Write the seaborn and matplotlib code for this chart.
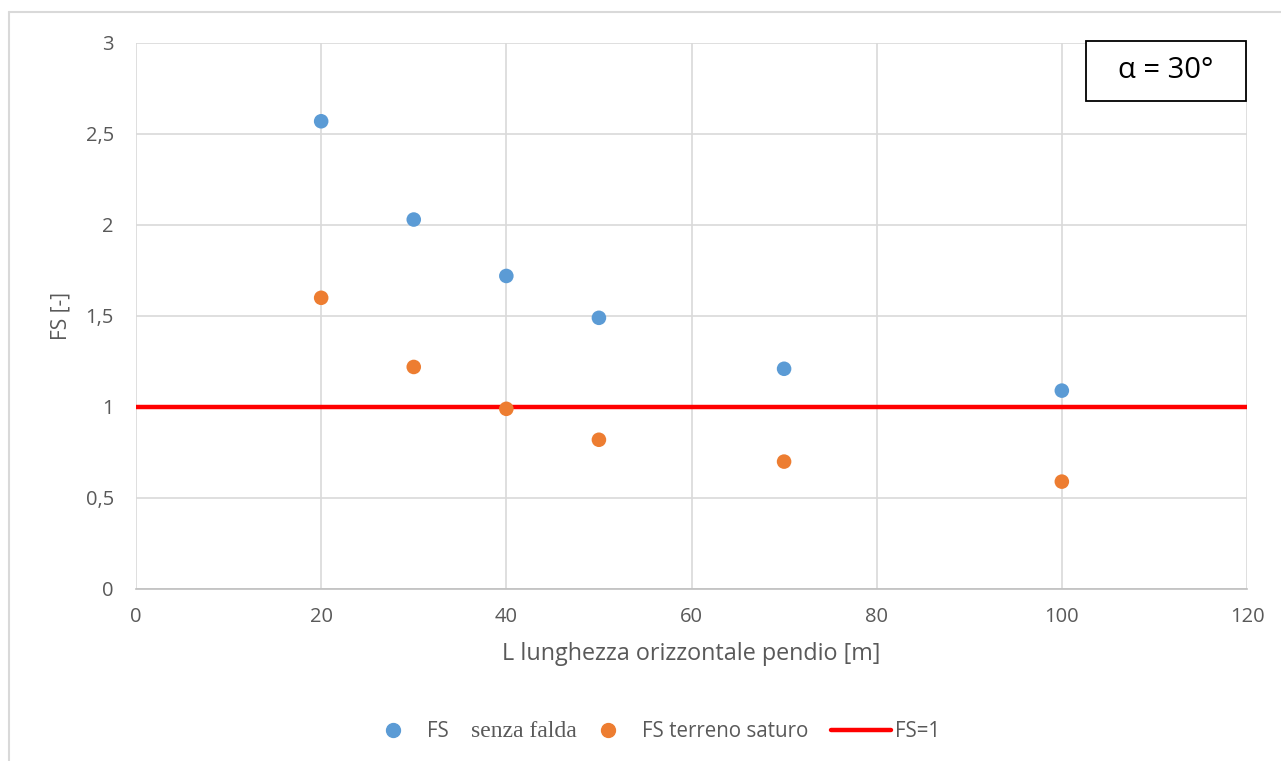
import pandas as pd
import matplotlib
matplotlib.use("Agg")
import matplotlib.pyplot as plt
from matplotlib.lines import Line2D
from matplotlib.patches import Rectangle
from matplotlib.offsetbox import TextArea, DrawingArea
from matplotlib.ticker import FuncFormatter, MultipleLocator
import seaborn as sns

# values
lunghezza = [20, 30, 40, 50, 70, 100]
fs_senza_falda = [2.57, 2.03, 1.72, 1.49, 1.21, 1.09]
fs_terreno_saturo = [1.60, 1.22, 0.99, 0.82, 0.70, 0.59]
fs_limite = 1.0

df = pd.DataFrame({
    "L": lunghezza * 2,
    "FS": fs_senza_falda + fs_terreno_saturo,
    "serie": ["senza falda"] * len(lunghezza) + ["terreno saturo"] * len(lunghezza),
})

sns.set_style("white")
plt.rcParams["font.family"] = ["Open Sans", "DejaVu Sans"]
grey = "#595959"
W, H = 1281, 761

fig = plt.figure(figsize=(W / 100, H / 100), dpi=100)
ax = fig.add_axes([136 / W, 1 - 589 / H, 1111 / W, 546 / H])

palette = {"senza falda": "#5b9bd5", "terreno saturo": "#ed7d31"}
sns.scatterplot(data=df, x="L", y="FS", hue="serie", palette=palette,
                s=110, edgecolor="none", legend=False, ax=ax, zorder=3)
ax.axhline(fs_limite, color="#ff0000", lw=3.2, zorder=2)

ax.set_xlim(0, 120)
ax.set_ylim(0, 3)
ax.xaxis.set_major_locator(MultipleLocator(20))
ax.yaxis.set_major_locator(MultipleLocator(0.5))
ax.yaxis.set_major_formatter(FuncFormatter(lambda v, p: f"{v:g}".replace(".", ",")))
ax.grid(True, color="#d9d9d9", lw=1.2)
ax.set_axisbelow(True)
for side in ["top", "right", "left"]:
    ax.spines[side].set_visible(False)
ax.spines["bottom"].set_color("#bfbfbf")
ax.spines["bottom"].set_linewidth(1.2)
ax.tick_params(axis="both", length=0, labelsize=14.5, colors=grey)
ax.tick_params(axis="y", pad=16)
ax.tick_params(axis="x", pad=13)

ax.set_xlabel("L lunghezza orizzontale pendio [m]", fontsize=16.8, color=grey, labelpad=11)
ax.set_ylabel("FS [-]", fontsize=15, color=grey, labelpad=10)

# alpha box
ax.add_patch(Rectangle((0.855, 0.894), 0.144, 0.110, transform=ax.transAxes,
                       fc="white", ec="black", lw=1.3, zorder=5, clip_on=False))
ax.text(0.927, 0.949, "α = 30°", transform=ax.transAxes, fontsize=21,
        ha="center", va="center", color="black", zorder=6)

# legend
handles = [
    Line2D([], [], marker="o", ls="", color=palette["senza falda"], markersize=10),
    Line2D([], [], marker="o", ls="", color=palette["terreno saturo"], markersize=10),
    Line2D([], [], color="#ff0000", lw=3.2),
]
labels = ["FS", "FS terreno saturo", "FS=1"]
leg = fig.legend(handles, labels, loc="center", bbox_to_anchor=(0.5087, 0.039),
                 ncol=3, frameon=False, fontsize=14.8, handlelength=2.9,
                 columnspacing=0.1, handletextpad=0.2)
for t in leg.get_texts():
    t.set_color(grey)

# "senza falda" is set in a serif face in the original, append it to the first entry
columns = leg._legend_handle_box.get_children()
first_row = columns[0].get_children()[0]
second_row = columns[1].get_children()[0]
spacer = DrawingArea(10, 1)
serif_label = TextArea("senza falda",
                       textprops=dict(fontsize=17, color=grey, family="Liberation Serif"))
for box in (spacer, serif_label):
    box.set_figure(fig)
    first_row.get_children().append(box)
gap = DrawingArea(12, 1)
gap.set_figure(fig)
second_row.get_children().append(gap)

# outer chart border
fig.add_artist(Line2D([9 / W, 9 / W], [0, 1 - 12 / H], color="#d9d9d9", lw=1.5,
                      transform=fig.transFigure))
fig.add_artist(Line2D([9 / W, 1], [1 - 12 / H, 1 - 12 / H], color="#d9d9d9", lw=1.5,
                      transform=fig.transFigure))

fig.savefig("out.png", dpi=100)
